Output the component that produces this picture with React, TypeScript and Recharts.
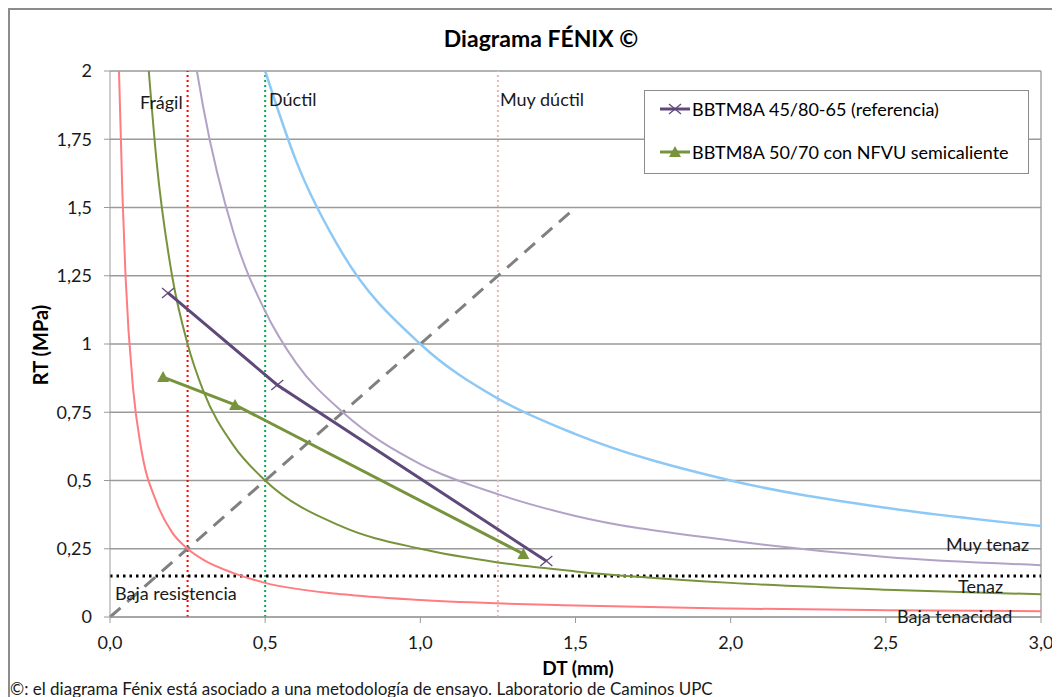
import { ComposedChart, Line, XAxis, YAxis, CartesianGrid, ReferenceLine } from 'recharts'

const curvaBajaTenacidad = [
  { x: 0.029, y: 2.0 }, { x: 0.04, y: 1.55 }, { x: 0.05, y: 1.25 }, { x: 0.075, y: 0.83 },
  { x: 0.1, y: 0.62 }, { x: 0.15, y: 0.42 }, { x: 0.2, y: 0.31 }, { x: 0.25, y: 0.25 },
  { x: 0.3, y: 0.21 }, { x: 0.4, y: 0.16 }, { x: 0.5, y: 0.125 }, { x: 0.75, y: 0.083 },
  { x: 1.0, y: 0.062 }, { x: 1.5, y: 0.042 }, { x: 2.0, y: 0.031 }, { x: 2.5, y: 0.025 },
  { x: 3.0, y: 0.021 },
]
const curvaTenaz = [
  { x: 0.125, y: 2.0 }, { x: 0.15, y: 1.67 }, { x: 0.2, y: 1.25 }, { x: 0.25, y: 1.0 },
  { x: 0.3, y: 0.83 }, { x: 0.4, y: 0.625 }, { x: 0.5, y: 0.5 }, { x: 0.75, y: 0.33 },
  { x: 1.0, y: 0.25 }, { x: 1.25, y: 0.2 }, { x: 1.5, y: 0.167 }, { x: 2.0, y: 0.125 },
  { x: 2.5, y: 0.1 }, { x: 3.0, y: 0.083 },
]
const curvaMuyTenaz = [
  { x: 0.28, y: 2.0 }, { x: 0.3, y: 1.87 }, { x: 0.4, y: 1.4 }, { x: 0.5, y: 1.12 },
  { x: 0.6, y: 0.93 }, { x: 0.75, y: 0.75 }, { x: 1.0, y: 0.56 }, { x: 1.25, y: 0.45 },
  { x: 1.5, y: 0.37 }, { x: 2.0, y: 0.28 }, { x: 2.5, y: 0.22 }, { x: 3.0, y: 0.19 },
]
const curvaSuperior = [
  { x: 0.5, y: 2.0 }, { x: 0.6, y: 1.67 }, { x: 0.75, y: 1.33 }, { x: 1.0, y: 1.0 },
  { x: 1.25, y: 0.8 }, { x: 1.5, y: 0.67 }, { x: 2.0, y: 0.5 }, { x: 2.5, y: 0.4 },
  { x: 3.0, y: 0.333 },
]
const diagonal = [{ x: 0, y: 0 }, { x: 1.5, y: 1.5 }]

// ensayos
const referencia = [{ x: 0.187, y: 1.187 }, { x: 0.539, y: 0.85 }, { x: 1.406, y: 0.205 }]
const semicaliente = [{ x: 0.171, y: 0.879 }, { x: 0.403, y: 0.777 }, { x: 1.332, y: 0.231 }]

const xTicks = [0, 0.5, 1, 1.5, 2, 2.5, 3]
const yTicks = [0, 0.25, 0.5, 0.75, 1, 1.25, 1.5, 1.75, 2]

const PURPLE = '#5F497A'
const GREEN = '#77933C'

const fmtX = (v: number) => v.toFixed(1).replace('.', ',')
const fmtY = (v: number) => String(v).replace('.', ',')

const Cross = (props: any) => {
  const { cx, cy } = props
  if (cx == null || cy == null) return null
  return (
    <g stroke={PURPLE} strokeWidth={1.3}>
      <line x1={cx - 6} y1={cy - 5} x2={cx + 6} y2={cy + 5} />
      <line x1={cx - 6} y1={cy + 5} x2={cx + 6} y2={cy - 5} />
    </g>
  )
}

const Triangle = (props: any) => {
  const { cx, cy } = props
  if (cx == null || cy == null) return null
  return <polygon points={`${cx},${cy - 6} ${cx + 6},${cy + 5} ${cx - 6},${cy + 5}`} fill={GREEN} />
}

const label = (text: string, left: number, top: number, extra: any = {}) => (
  <div style={{ position: 'absolute', left, top, fontSize: 18, whiteSpace: 'nowrap', color: '#1a1a1a', ...extra }}>
    {text}
  </div>
)

export default function App() {
  return (
    <div
      style={{
        position: 'relative',
        width: 1043,
        height: 689,
        border: '2px solid #8c8c8c',
        fontFamily: 'Lato, sans-serif',
        overflow: 'hidden',
        background: '#fff',
      }}
    >
      <div style={{ position: 'absolute', left: 0, width: 1062, top: 14, textAlign: 'center', fontSize: 23, fontWeight: 'bold' }}>
        Diagrama FÉNIX ©
      </div>
      <ComposedChart width={1043} height={689} margin={{ top: 61, right: 12, left: 40, bottom: 52 }}>
        <CartesianGrid vertical={false} stroke="#9a9a9a" strokeWidth={1.3} />
        <XAxis
          type="number"
          dataKey="x"
          domain={[0, 3]}
          ticks={xTicks}
          tickFormatter={fmtX}
          height={30}
          stroke="#9a9a9a"
          tickSize={6}
          tickMargin={13}
          tick={{ fill: '#1a1a1a', fontSize: 18 }}
        />
        <YAxis
          type="number"
          domain={[0, 2]}
          ticks={yTicks}
          tickFormatter={fmtY}
          width={60}
          stroke="#9a9a9a"
          tickSize={6}
          tickMargin={12}
          tick={{ fill: '#1a1a1a', fontSize: 18 }}
        />
        <ReferenceLine x={3} stroke="#9a9a9a" strokeWidth={1.3} />
        <ReferenceLine x={0.25} stroke="#FF0000" strokeWidth={2} strokeDasharray="2 3" />
        <ReferenceLine x={0.5} stroke="#00B050" strokeWidth={2} strokeDasharray="2 3" />
        <ReferenceLine x={1.25} stroke="#E6B9B8" strokeWidth={2} strokeDasharray="2 3" />
        <ReferenceLine y={0.15} stroke="#000" strokeWidth={3} strokeDasharray="2.5 4" />
        <Line data={diagonal} dataKey="y" stroke="#808080" strokeWidth={3} strokeDasharray="14 9" dot={false} isAnimationActive={false} />
        <Line data={curvaBajaTenacidad} dataKey="y" type="monotone" stroke="#FF7C80" strokeWidth={2} dot={false} isAnimationActive={false} />
        <Line data={curvaTenaz} dataKey="y" type="monotone" stroke={GREEN} strokeWidth={2} dot={false} isAnimationActive={false} />
        <Line data={curvaMuyTenaz} dataKey="y" type="monotone" stroke="#B3A2C7" strokeWidth={2} dot={false} isAnimationActive={false} />
        <Line data={curvaSuperior} dataKey="y" type="monotone" stroke="#8EC9F5" strokeWidth={2.5} dot={false} isAnimationActive={false} />
        <Line data={referencia} dataKey="y" stroke={PURPLE} strokeWidth={3} dot={<Cross />} isAnimationActive={false} />
        <Line data={semicaliente} dataKey="y" stroke={GREEN} strokeWidth={3} dot={<Triangle />} isAnimationActive={false} />
      </ComposedChart>

      {label('Frágil', 130, 81)}
      {label('Dúctil', 259, 78)}
      {label('Muy dúctil', 490, 78)}
      {label('Muy tenaz', 936, 523)}
      {label('Tenaz', 948, 565)}
      {label('Baja tenacidad', 887, 595)}
      {label('Baja resistencia', 105, 572)}

      <div
        style={{
          position: 'absolute',
          left: 30,
          top: 335,
          transform: 'translate(-50%, -50%) rotate(-90deg)',
          fontSize: 20,
          fontWeight: 'bold',
          whiteSpace: 'nowrap',
        }}
      >
        RT (MPa)
      </div>
      <div
        style={{
          position: 'absolute',
          left: 568,
          top: 657,
          transform: 'translate(-50%, -50%)',
          fontSize: 19,
          lineHeight: '19px',
          fontWeight: 'bold',
          whiteSpace: 'nowrap',
        }}
      >
        DT (mm)
      </div>
      {label('©: el diagrama Fénix está asociado a una metodología de ensayo. Laboratorio de Caminos UPC', 0, 670, {
        fontSize: 17,
        lineHeight: '17px',
      })}

      <div
        style={{
          position: 'absolute',
          left: 634,
          top: 80,
          width: 383,
          height: 82,
          border: '1px solid #8c8c8c',
          background: '#fff',
          fontSize: 18,
        }}
      >
        <div style={{ position: 'absolute', left: 14, top: 7, display: 'flex', alignItems: 'center' }}>
          <svg width={32} height={14}>
            <line x1={1} y1={7} x2={31} y2={7} stroke={PURPLE} strokeWidth={3} />
            <line x1={10} y1={2} x2={22} y2={12} stroke={PURPLE} strokeWidth={1.3} />
            <line x1={10} y1={12} x2={22} y2={2} stroke={PURPLE} strokeWidth={1.3} />
          </svg>
          <span style={{ marginLeft: 1 }}>BBTM8A 45/80-65 (referencia)</span>
        </div>
        <div style={{ position: 'absolute', left: 14, top: 50, display: 'flex', alignItems: 'center' }}>
          <svg width={32} height={14}>
            <line x1={1} y1={7} x2={31} y2={7} stroke={GREEN} strokeWidth={3} />
            <polygon points="16,1 22,12 10,12" fill={GREEN} />
          </svg>
          <span style={{ marginLeft: 1 }}>BBTM8A 50/70 con NFVU semicaliente</span>
        </div>
      </div>
    </div>
  )
}
